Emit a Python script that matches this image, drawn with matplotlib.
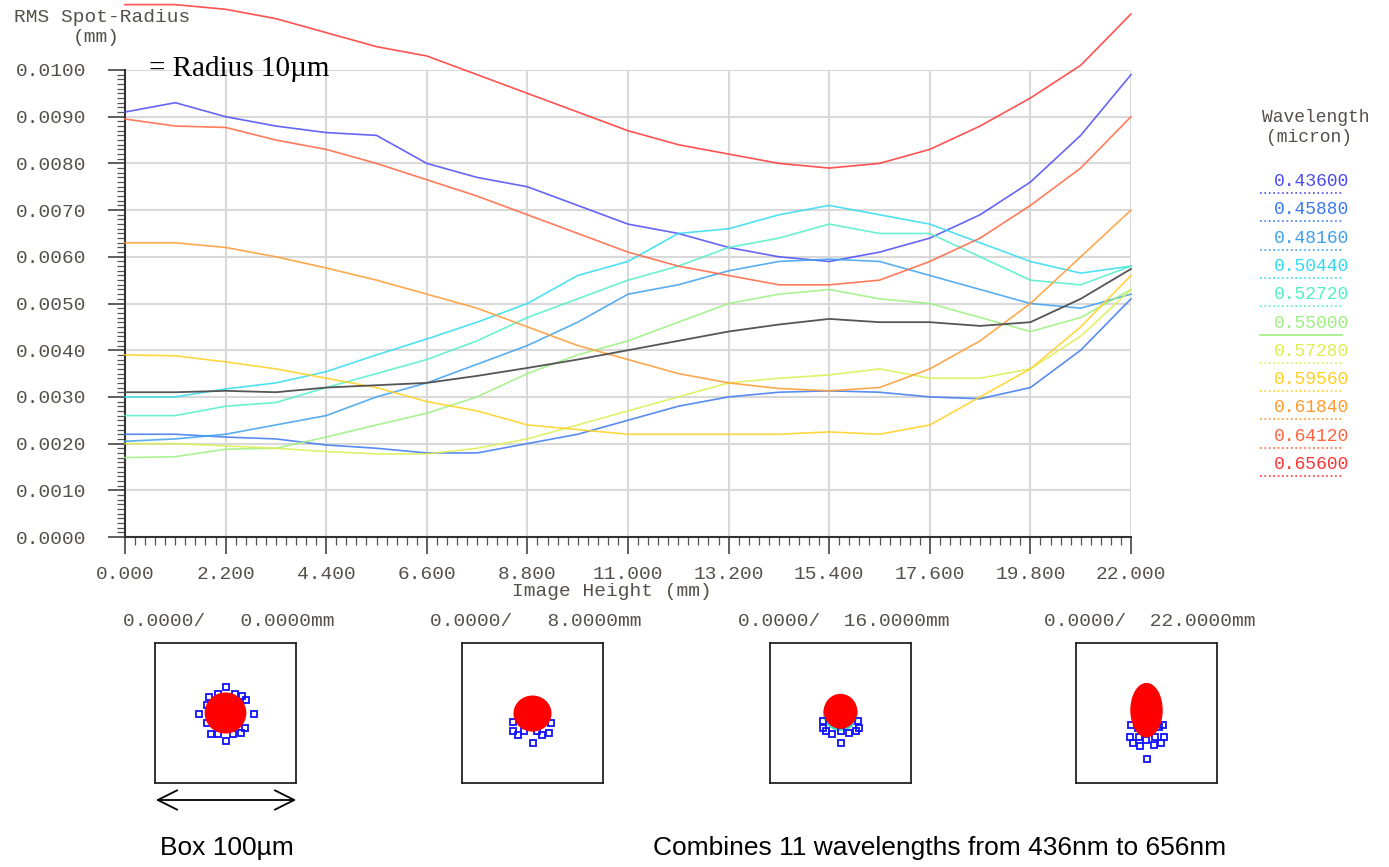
import numpy as np
import matplotlib
matplotlib.use('Agg')
import matplotlib.pyplot as plt
from matplotlib.ticker import MultipleLocator, FormatStrFormatter
from matplotlib.lines import Line2D
from matplotlib.patches import Ellipse, FancyArrowPatch

# Image height (mm)
heights = [0.0, 1.1, 2.2, 3.3, 4.4, 5.5, 6.6, 7.7, 8.8, 9.9, 11.0,
           12.1, 13.2, 14.3, 15.4, 16.5, 17.6, 18.7, 19.8, 20.9, 22.0]

# RMS spot radius (mm) per wavelength
rms_436 = [0.0091, 0.0093, 0.0090, 0.0088, 0.00866, 0.0086, 0.0080, 0.0077, 0.0075, 0.0071, 0.0067,
           0.0065, 0.0062, 0.0060, 0.0059, 0.0061, 0.0064, 0.0069, 0.0076, 0.0086, 0.0099]
rms_4588 = [0.0022, 0.0022, 0.00214, 0.0021, 0.00197, 0.0019, 0.0018, 0.0018, 0.0020, 0.0022, 0.0025,
            0.0028, 0.0030, 0.0031, 0.00313, 0.0031, 0.0030, 0.00296, 0.0032, 0.0040, 0.0051]
rms_4816 = [0.00205, 0.0021, 0.0022, 0.0024, 0.0026, 0.0030, 0.0033, 0.0037, 0.0041, 0.0046, 0.0052,
            0.0054, 0.0057, 0.0059, 0.00595, 0.0059, 0.0056, 0.0053, 0.0050, 0.0049, 0.0052]
rms_5044 = [0.0030, 0.0030, 0.00317, 0.0033, 0.00354, 0.0039, 0.00424, 0.0046, 0.0050, 0.0056, 0.0059,
            0.0065, 0.0066, 0.0069, 0.0071, 0.0069, 0.0067, 0.0063, 0.0059, 0.00565, 0.0058]
rms_5272 = [0.0026, 0.0026, 0.0028, 0.00288, 0.0032, 0.0035, 0.0038, 0.0042, 0.0047, 0.0051, 0.0055,
            0.0058, 0.0062, 0.0064, 0.0067, 0.0065, 0.0065, 0.0060, 0.0055, 0.0054, 0.0058]
rms_5500 = [0.0017, 0.00172, 0.00188, 0.0019, 0.00214, 0.0024, 0.00265, 0.0030, 0.0035, 0.0039, 0.0042,
            0.0046, 0.0050, 0.0052, 0.0053, 0.0051, 0.0050, 0.0047, 0.0044, 0.0047, 0.0053]
rms_5728 = [0.0020, 0.0020, 0.00195, 0.0019, 0.00183, 0.00178, 0.00178, 0.0019, 0.0021, 0.0024, 0.0027,
            0.0030, 0.0033, 0.0034, 0.00347, 0.0036, 0.0034, 0.0034, 0.0036, 0.0043, 0.0053]
rms_5956 = [0.0039, 0.00388, 0.00375, 0.0036, 0.0034, 0.0032, 0.0029, 0.0027, 0.0024, 0.0023, 0.0022,
            0.0022, 0.0022, 0.0022, 0.00225, 0.0022, 0.0024, 0.0030, 0.0036, 0.0045, 0.0056]
rms_6184 = [0.0063, 0.0063, 0.0062, 0.0060, 0.00576, 0.0055, 0.0052, 0.0049, 0.0045, 0.0041, 0.0038,
            0.0035, 0.0033, 0.00318, 0.00313, 0.0032, 0.0036, 0.0042, 0.0050, 0.0060, 0.0070]
rms_6412 = [0.00895, 0.0088, 0.00877, 0.0085, 0.0083, 0.0080, 0.00765, 0.0073, 0.0069, 0.0065, 0.0061,
            0.0058, 0.0056, 0.0054, 0.0054, 0.0055, 0.0059, 0.0064, 0.0071, 0.0079, 0.0090]
rms_656 = [0.0114, 0.0114, 0.0113, 0.0111, 0.0108, 0.0105, 0.0103, 0.0099, 0.0095, 0.0091, 0.0087,
           0.0084, 0.0082, 0.0080, 0.0079, 0.0080, 0.0083, 0.0088, 0.0094, 0.0101, 0.0112]
rms_poly = [0.0031, 0.0031, 0.00313, 0.0031, 0.0032, 0.00325, 0.0033, 0.00345, 0.00362, 0.0038, 0.0040,
            0.0042, 0.0044, 0.00455, 0.00467, 0.0046, 0.0046, 0.00452, 0.0046, 0.0051, 0.00574]

wl_labels = ['0.43600', '0.45880', '0.48160', '0.50440', '0.52720', '0.55000',
             '0.57280', '0.59560', '0.61840', '0.64120', '0.65600']
wl_series = [rms_436, rms_4588, rms_4816, rms_5044, rms_5272, rms_5500,
             rms_5728, rms_5956, rms_6184, rms_6412, rms_656]
wl_colors = ['#4a4af5', '#3c78f0', '#3ca0f0', '#30dcf0', '#50f0c8', '#9cf080',
             '#dcf050', '#ffd020', '#ff9a30', '#ff6440', '#ff3434']

# spot diagrams: field label, core size (um), blue outlier rays (um)
spot_fields = ['0.0000/   0.0000mm', '0.0000/   8.0000mm', '0.0000/  16.0000mm', '0.0000/  22.0000mm']
core_w = [28.6, 26.0, 22.8, 22.0]
core_h = [28.4, 24.8, 24.0, 38.0]
core_dy = [0.0, -0.4, 1.2, 2.0]
blue_x = [
    [0, 0, -18.6, 20.4, -11.8, -5.4, 6.7, 11.8, -13.0, -13.0, -10.5, -5.4, 5.2, 11.1, 13.5, 14.8],
    [-13.7, -13.7, -10.2, -5.7, 3.2, 7.0, 11.6, 13.3, 0.0],
    [-12.1, -12.1, -10.4, -6.0, 0.1, 6.2, 10.9, 12.8, 12.1, 0.1],
    [-11.2, -6.3, 9.1, 11.6, -11.7, -5.6, 5.9, 12.3, -9.7, -4.8, -0.7, 5.4, 10.3, 0.0],
]
blue_y = [
    [18.4, -20.3, -0.9, -0.9, 11.1, 13.5, 13.5, 12.1, 5.7, -7.3, -14.9, -14.9, -14.9, -14.4, -10.9, 9.2],
    [-6.1, -12.8, -15.6, -13.2, -13.2, -15.6, -14.4, -6.9, -21.5],
    [-5.4, -10.9, -13.2, -14.9, -12.5, -14.4, -12.5, -10.9, -5.4, -21.5],
    [-8.5, -10.9, -9.7, -8.5, -16.8, -16.8, -16.8, -16.8, -21.5, -23.9, -19.1, -22.7, -21.5, -32.8],
]
spot_box_left = [155, 462, 770, 1076]

W, H = 1389, 867
MONO = 'Liberation Mono'
LBL = '#55504a'

fig = plt.figure(figsize=(W / 100, H / 100), dpi=100)

def fx(px):
    return px / W

def fy(py):
    return 1 - py / H

ax = fig.add_axes([fx(125), fy(537), fx(1131) - fx(125), fy(70) - fy(537)])
for ys, c in zip(wl_series, wl_colors):
    ax.plot(heights, ys, color=c, lw=1.2, alpha=0.85, clip_on=False, zorder=3)
ax.plot(heights, rms_poly, color='#555555', lw=1.3, clip_on=False, zorder=3)

ax.set_xlim(0, 22)
ax.set_ylim(0, 0.0100)
ax.xaxis.set_major_locator(MultipleLocator(2.2))
ax.xaxis.set_minor_locator(MultipleLocator(0.22))
ax.yaxis.set_major_locator(MultipleLocator(0.001))
ax.yaxis.set_minor_locator(MultipleLocator(0.0001))
ax.xaxis.set_major_formatter(FormatStrFormatter('%.3f'))
ax.yaxis.set_major_formatter(FormatStrFormatter('%.4f'))
ax.grid(which='major', color='#d9d9d9', lw=1.5, zorder=0)
ax.set_axisbelow(True)
for s in ['top', 'right']:
    ax.spines[s].set_visible(False)
for s in ['left', 'bottom']:
    ax.spines[s].set_color('#333333')
    ax.spines[s].set_linewidth(1.5)
ax.tick_params(which='major', length=12, width=1.2, color='#444444', labelcolor=LBL, labelsize=14)
ax.tick_params(which='minor', length=6, width=0.9, color='#555555')
ax.tick_params(axis='y', which='major', pad=16)
ax.tick_params(axis='x', which='major', pad=9)
for t in ax.get_xticklabels() + ax.get_yticklabels():
    t.set_family(MONO)

fig.text(fx(612), fy(591), 'Image Height (mm)', ha='center', va='center',
         family=MONO, size=14, color=LBL)
fig.text(fx(14), fy(17), 'RMS Spot-Radius', ha='left', va='center', family=MONO, size=14, color=LBL)
fig.text(fx(96), fy(37), '(mm)', ha='center', va='center', family=MONO, size=14, color=LBL)
fig.text(fx(149), fy(69), '= Radius 10µm', ha='left', va='center',
         family='Liberation Serif', size=21, color='black')

# legend
fig.text(fx(1316), fy(117), 'Wavelength', ha='center', va='center', family=MONO, size=13, color=LBL)
fig.text(fx(1309), fy(138), '(micron)', ha='center', va='center', family=MONO, size=13, color=LBL)
for i, (lab, c) in enumerate(zip(wl_labels, wl_colors)):
    yc = 181.5 + i * 28.3
    fig.text(fx(1349), fy(yc), lab, ha='right', va='center', family=MONO, size=13, color=c)
    ls = '-' if lab == '0.55000' else ':'
    fig.add_artist(Line2D([fx(1260), fx(1342)], [fy(yc + 11.5)], color=c, lw=1.2, ls=ls,
                          transform=fig.transFigure))

# spot diagrams
for i in range(4):
    x0 = spot_box_left[i]
    sa = fig.add_axes([fx(x0), fy(783), fx(141), fy(643) - fy(783)])
    sa.set_xlim(-50, 50)
    sa.set_ylim(-50, 50)
    sa.set_xticks([])
    sa.set_yticks([])
    for s in sa.spines.values():
        s.set_color('#222222')
        s.set_linewidth(1.3)
    sa.plot(blue_x[i], blue_y[i], ls='none', marker='s', ms=3.8, mfc='none', mec='#1010ff', mew=1.3)
    if i == 2:
        sa.add_patch(Ellipse((0, core_dy[i] - 1.5), core_w[i] + 1, core_h[i], color='#30e0c0'))
    sa.add_patch(Ellipse((0, core_dy[i]), core_w[i], core_h[i], color='#ff0000', zorder=3))
    fig.text(fx(x0 - 32), fy(622), spot_fields[i], ha='left', va='center',
             family=MONO, size=14, color=LBL)

fig.add_artist(FancyArrowPatch((fx(153), fy(800)), (fx(299), fy(800)),
                               arrowstyle='<->,head_length=14,head_width=7',
                               transform=fig.transFigure, color='black', lw=1.3))
fig.text(fx(160), fy(848), 'Box 100µm', ha='left', va='center',
         family='Liberation Sans', size=19, color='black')
fig.text(fx(653), fy(848), 'Combines 11 wavelengths from 436nm to 656nm', ha='left', va='center',
         family='Liberation Sans', size=19, color='black')

fig.savefig('out.png', dpi=100)
